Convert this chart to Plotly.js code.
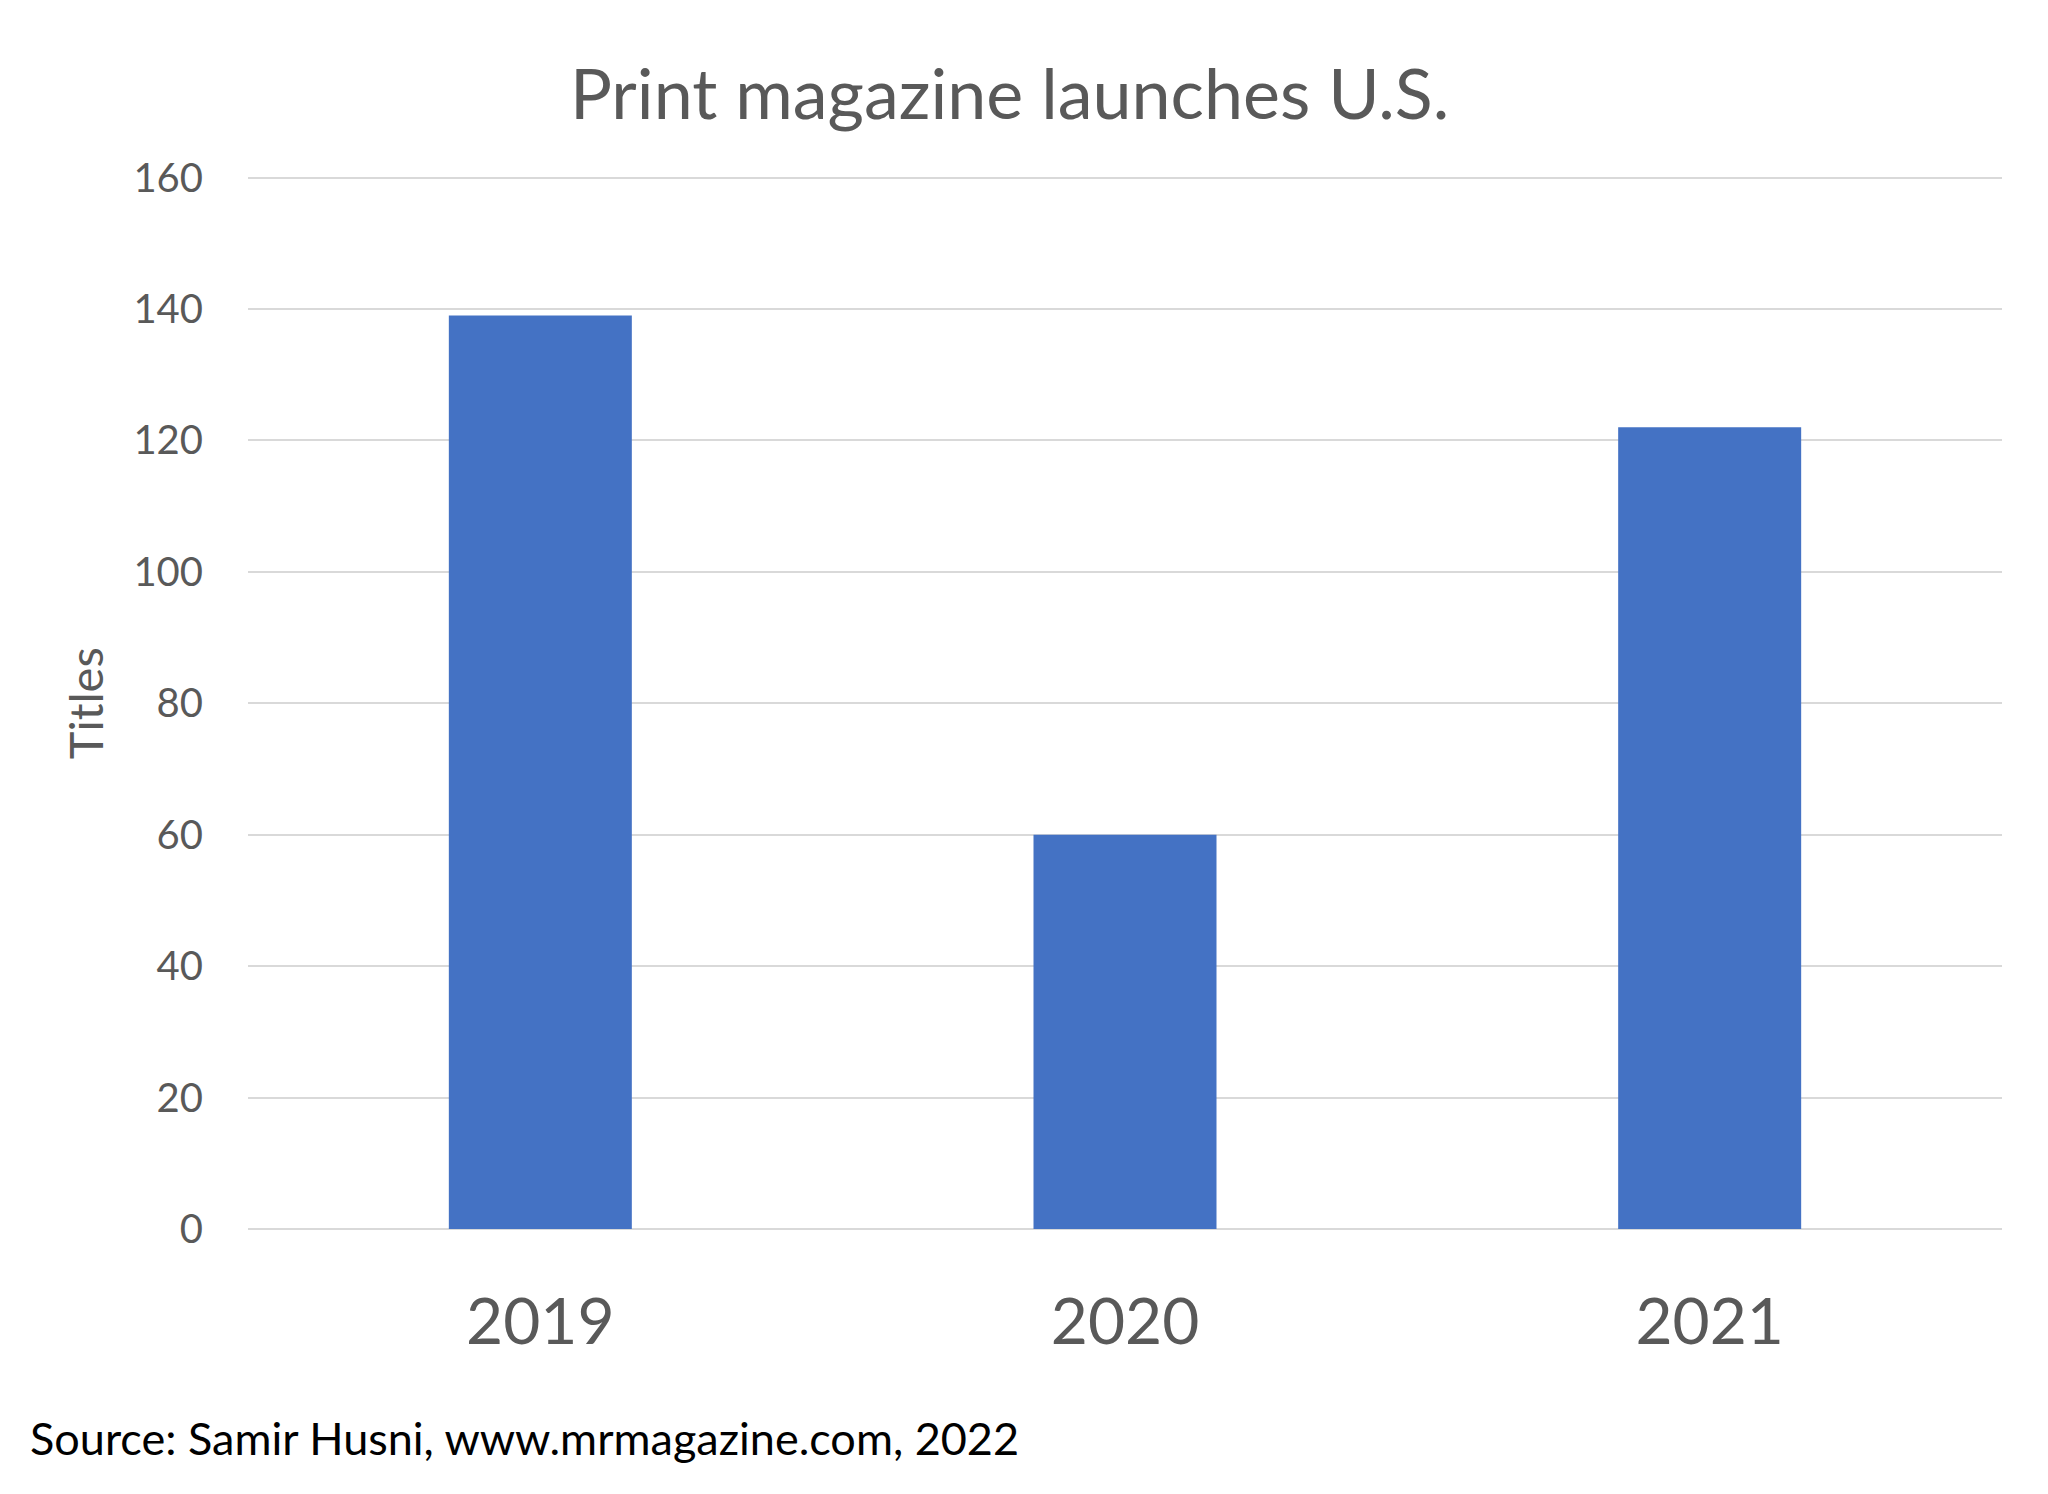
<!DOCTYPE html>
<html>
<head>
<meta charset="utf-8">
<script src="https://cdn.plot.ly/plotly-3.0.1.min.js"></script>
<style>html,body{margin:0;padding:0;background:#fff;}#chart{width:2048px;height:1494px;}</style>
</head>
<body>
<div id="chart"></div>
<script>
const years = ["2019", "2020", "2021"];
const titles = [139, 60, 122];
const yTicks = [0, 20, 40, 60, 80, 100, 120, 140, 160];

const FONT = "Lato, 'Open Sans', sans-serif";
const GREY = "#595959";

const data = [{
  type: "bar",
  x: years,
  y: titles,
  width: 0.313,
  marker: {color: "#4472C4", line: {width: 0}},
  hoverinfo: "x+y"
}];

const layout = {
  width: 2048,
  height: 1494,
  paper_bgcolor: "#ffffff",
  plot_bgcolor: "#ffffff",
  margin: {l: 248, r: 46, t: 171, b: 265, pad: 0},
  showlegend: false,
  font: {family: FONT, color: GREY},
  title: {
    text: "Print magazine launches U.S.",
    font: {family: FONT, size: 70, color: GREY},
    xref: "container", yref: "container",
    x: 0.493, y: 0.937, xanchor: "center", yanchor: "middle"
  },
  xaxis: {
    type: "category",
    showgrid: false,
    zeroline: false,
    showline: false,
    ticks: "",
    tickfont: {family: FONT, size: 64, color: GREY},
    ticklabelstandoff: 50,
    automargin: false
  },
  yaxis: {
    range: [0, 161],
    tickvals: yTicks,
    ticktext: yTicks.map(String),
    showgrid: true,
    gridcolor: "#d9d9d9",
    gridwidth: 2,
    zeroline: true,
    zerolinecolor: "#d9d9d9",
    zerolinewidth: 2,
    showline: false,
    ticks: "",
    tickfont: {family: FONT, size: 40, color: GREY},
    ticklabelstandoff: 44,
    automargin: false
  },
  annotations: [
    {
      text: "Titles",
      xref: "paper", yref: "paper",
      x: -0.0929, y: 0.497,
      xanchor: "center", yanchor: "middle",
      textangle: -90,
      showarrow: false,
      font: {family: FONT, size: 47, color: GREY}
    },
    {
      text: "Source: Samir Husni, www.mrmagazine.com, 2022",
      xref: "paper", yref: "paper",
      x: -0.1255, y: -0.198,
      xanchor: "left", yanchor: "middle",
      showarrow: false,
      font: {family: FONT, size: 45, color: "#000000"}
    }
  ]
};

Plotly.newPlot("chart", data, layout, {displayModeBar: false, staticPlot: true});
</script>
</body>
</html>
